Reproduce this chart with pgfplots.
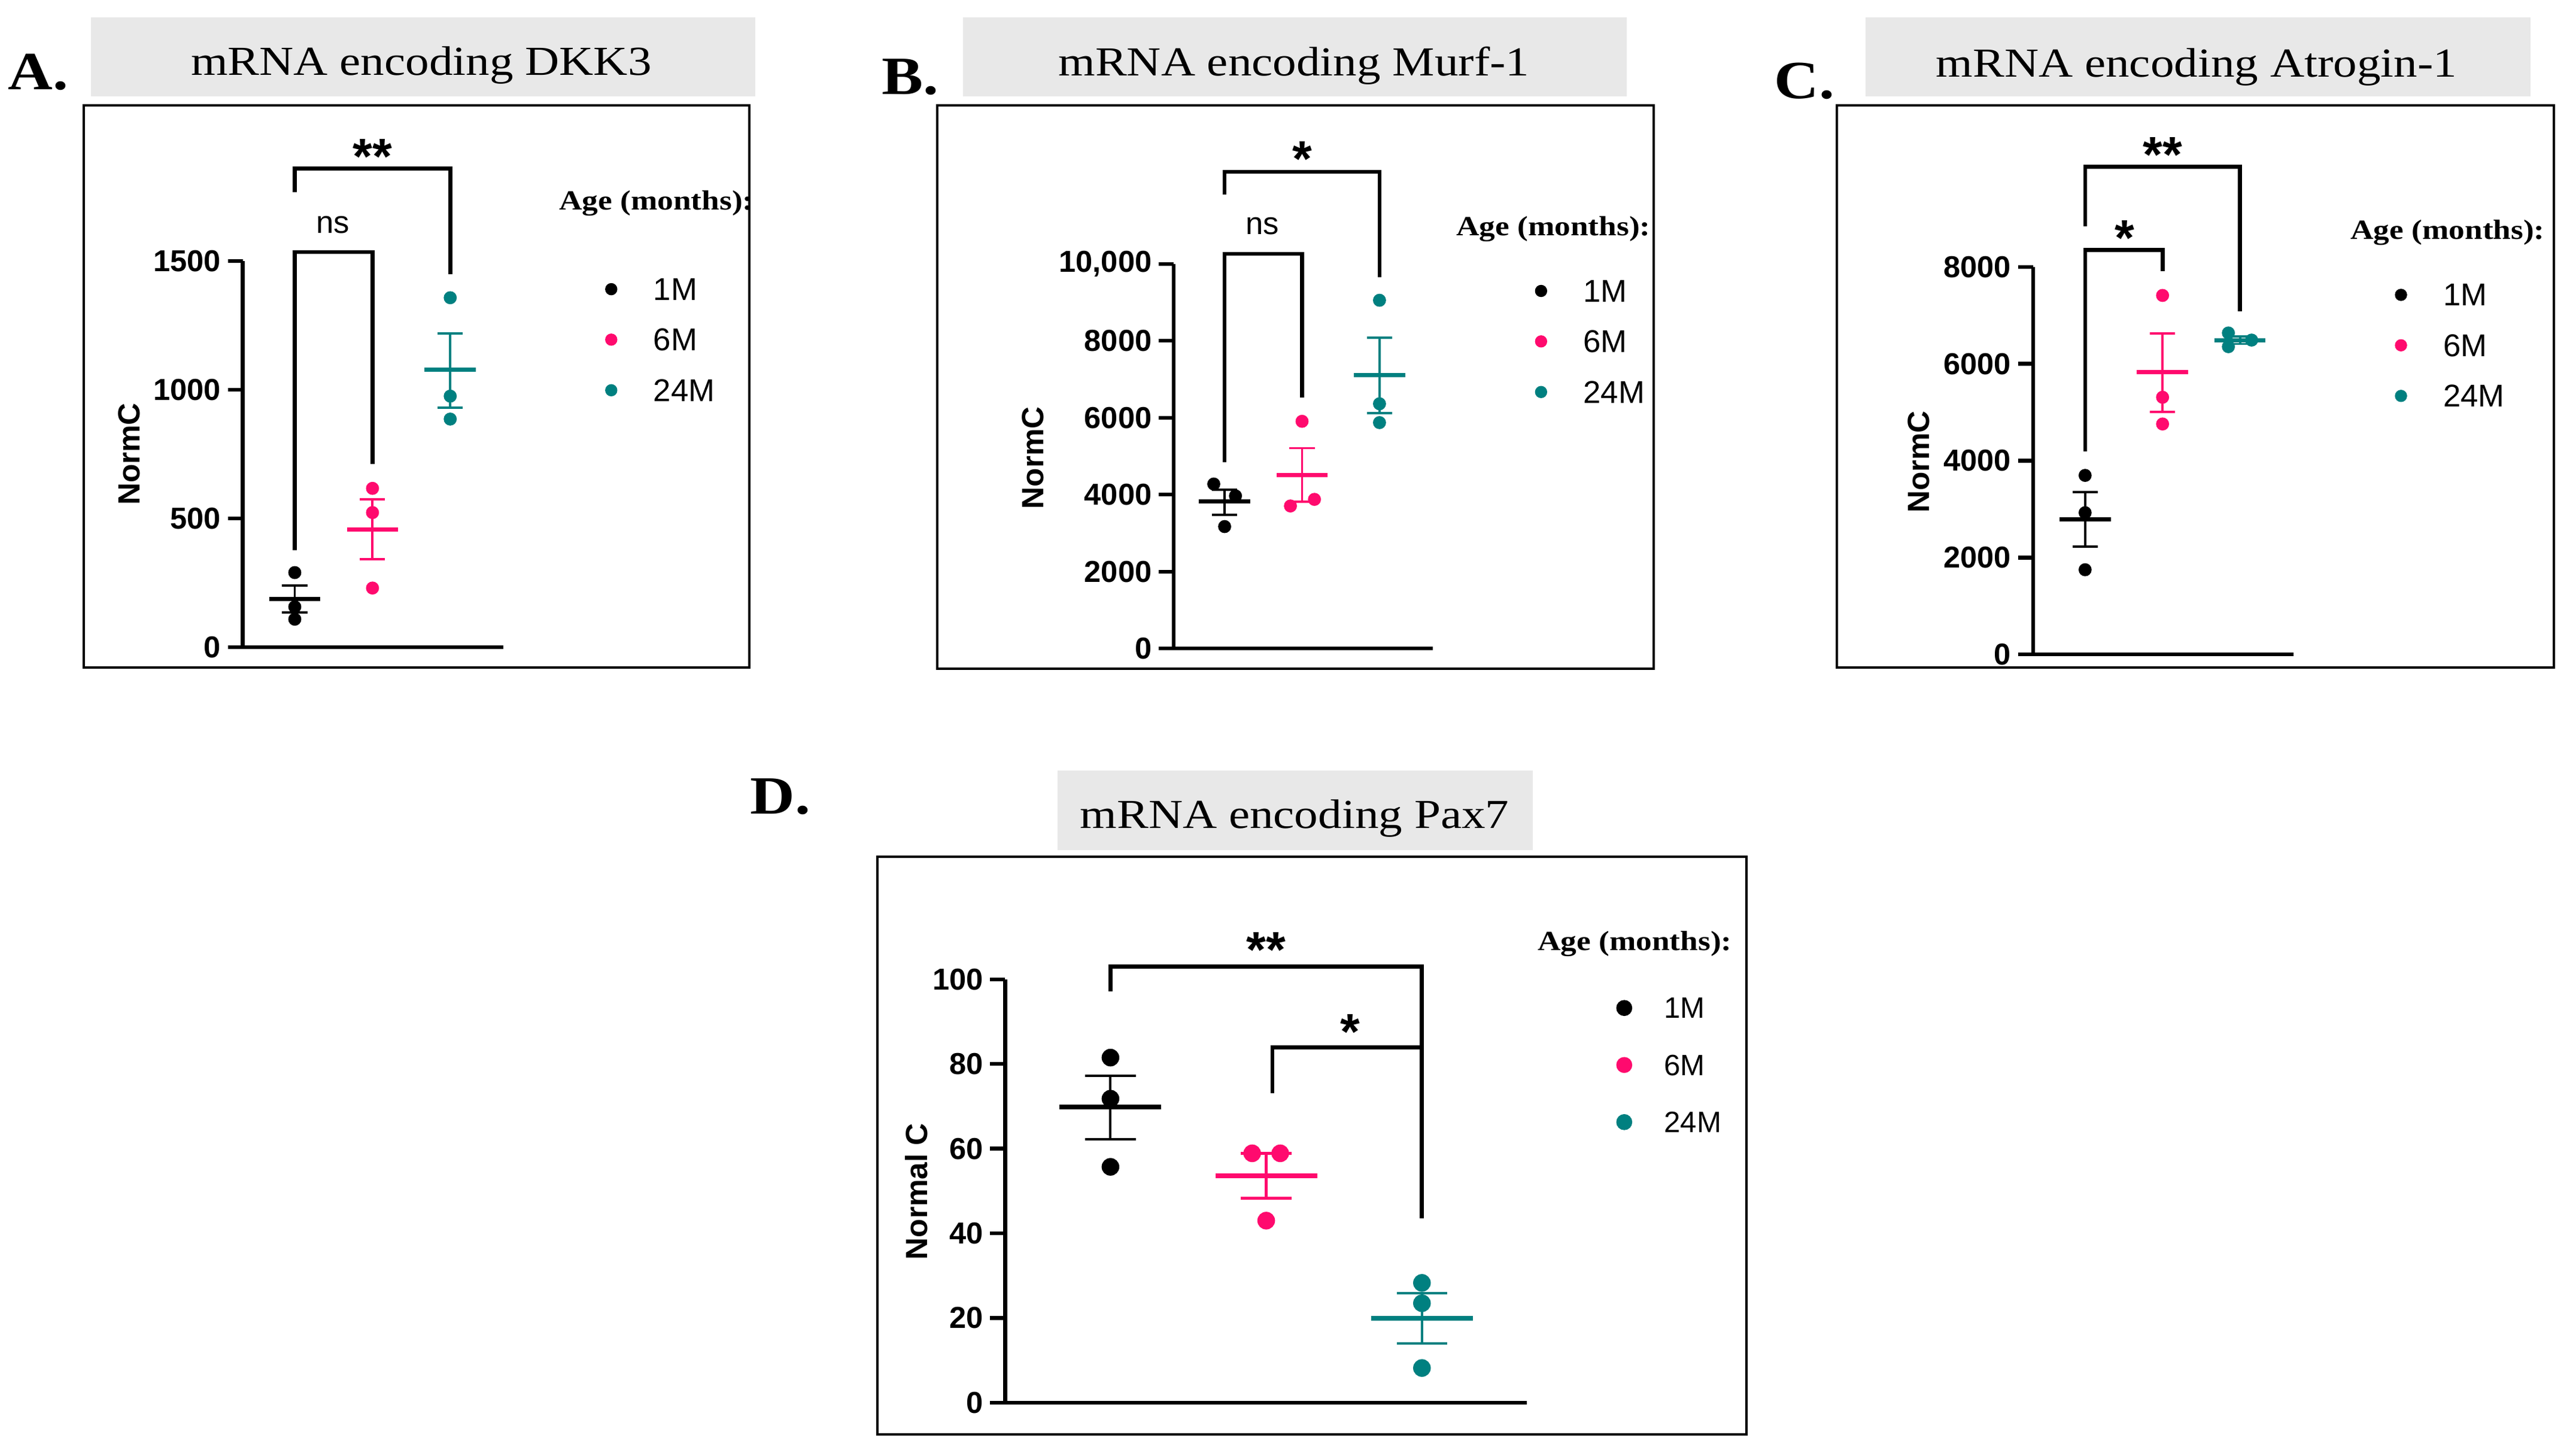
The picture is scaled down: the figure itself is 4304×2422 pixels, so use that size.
\documentclass[border=0pt]{standalone}
\usepackage{fontspec}
\setmainfont{Liberation Serif}
\setsansfont{Liberation Sans}
\newfontfamily\titlefont[FakeStretch=1.15]{Liberation Serif}
\usepackage{pgfplots}
\pgfplotsset{compat=1.18}

\definecolor{pinkc}{HTML}{FF0A6E}
\definecolor{tealc}{HTML}{008080}
\definecolor{boxgray}{HTML}{E8E8E8}

\pgfplotsset{
  panel/.style={
    scale only axis, clip=false, anchor=south west,
    axis x line*=bottom, axis y line*=left,
    axis line style={line width=0.9pt, black},
    xtick=\empty, ymin=0, scaled y ticks=false,
    tick align=outside, major tick length=0.125cm,
    tick style={line width=0.9pt, black},
    yticklabel style={font=\sffamily\bfseries\fontsize{7.2}{8}\selectfont, inner sep=1.5pt},
    ylabel style={font=\sffamily\bfseries\fontsize{7.3}{9}\selectfont, anchor=center},
    legend style={draw=none, fill=none, anchor=north west, inner sep=0pt,
      font=\sffamily\fontsize{7.5}{9}\selectfont, row sep=6.8pt, column sep=8.8pt,
      nodes={inner sep=0pt, text depth=0pt}},
    legend cell align=left,
    legend image code/.code={\draw[##1] plot coordinates {(0cm,0cm)};},
  },
  pts/.style={forget plot, only marks, mark=*, mark size=1.35pt},
  meanbar/.style={forget plot, only marks, mark=-, mark size=6.1pt,
    mark options={line width=1pt},
    error bars/.cd, y dir=both, y explicit,
    error bar style={line width=0.55pt},
    error mark options={rotate=90, mark size=3pt, line width=0.55pt}},
  meanbarD/.style={forget plot, only marks, mark=-, mark size=12.1pt,
    mark options={line width=1.15pt},
    error bars/.cd, y dir=both, y explicit,
    error bar style={line width=0.6pt},
    error mark options={rotate=90, mark size=6pt, line width=0.6pt}},
  bracket/.style={forget plot, black, line width=0.95pt, no marks, sharp plot},
  legdot/.style={only marks, mark=*, mark size=1.25pt, #1},
}
\newcommand{\stars}{\sffamily\bfseries\fontsize{12}{12}\selectfont}
\newcommand{\nsfont}{\sffamily\fontsize{7.5}{9}\selectfont}
\newcommand{\agefont}{\titlefont\bfseries\fontsize{6.6}{8}\selectfont}
\newcommand{\ttl}{\titlefont\fontsize{9.8}{12}\selectfont}
\newcommand{\letterfont}{\titlefont\bfseries\fontsize{12.8}{14}\selectfont}

\begin{document}
\begin{tikzpicture}[x=0.005cm, y=0.005cm]
\useasboundingbox (0,0) rectangle (4304,2422);

% frames and title boxes
\draw[line width=0.57pt] (140,1307) rectangle (1252,2246);
\draw[line width=0.57pt] (1566,1305) rectangle (2763,2246);
\draw[line width=0.57pt] (3069,1307) rectangle (4267,2246);
\draw[line width=0.57pt] (1466,26) rectangle (2918,991);
\fill[boxgray] (152,2261) rectangle (1262,2393);
\fill[boxgray] (1609,2261) rectangle (2718,2393);
\fill[boxgray] (3117,2261) rectangle (4228,2393);
\fill[boxgray] (1767,1002) rectangle (2561,1135);
\node[anchor=base, font=\ttl] at (704,2296) {mRNA encoding DKK3};
\node[anchor=base, font=\ttl] at (2162,2295) {mRNA encoding Murf-1};
\node[anchor=base, font=\ttl] at (3670,2293) {mRNA encoding Atrogin-1};
\node[anchor=base, font=\ttl] at (2163,1038) {mRNA encoding Pax7};
\node[anchor=base west, inner sep=0pt, font=\letterfont] at (12,2272) {A.};
\node[anchor=base west, inner sep=0pt, font=\letterfont] at (1472,2264) {B.};
\node[anchor=base west, inner sep=0pt, font=\letterfont] at (2963,2257) {C.};
\node[anchor=base west, inner sep=0pt, font=\letterfont] at (1252,1062) {D.};
\node[anchor=base west, inner sep=0pt, font=\agefont] at (933,2071) {Age (months):};
\node[anchor=base west, inner sep=0pt, font=\agefont] at (2432,2028) {Age (months):};
\node[anchor=base west, inner sep=0pt, font=\agefont] at (3926,2022) {Age (months):};
\node[anchor=base west, inner sep=0pt, font=\agefont] at (2568,834) {Age (months):};

% A. DKK3
\begin{axis}[panel, at={(2.03cm,6.71cm)}, width=2.18cm, height=3.23cm,
  xmin=0.331, xmax=3.685, ymax=1500,
  ytick={0,500,1000,1500}, yticklabels={0,500,1000,1500},
  ylabel={NormC}, ylabel style={at={(axis description cs:-0.436,0.5)}},
  legend style={at={(axis description cs:1.390,0.957)}}]
\addlegendimage{legdot=black}\addlegendentry{1M}
\addlegendimage{legdot=pinkc}\addlegendentry{6M}
\addlegendimage{legdot=tealc}\addlegendentry{24M}
\addplot[pts, black] coordinates {(1,290) (1,157) (1,109)};
\addplot[pts, pinkc] coordinates {(2,617) (2,523) (2,230)};
\addplot[pts, tealc] coordinates {(3,1357) (3,975) (3,886)};
\addplot[black, meanbar] coordinates {(1,187) += (0,52) -= (0,52)};
\addplot[pinkc, meanbar] coordinates {(2,458) += (0,116) -= (0,115)};
\addplot[tealc, meanbar] coordinates {(3,1077) += (0,142) -= (0,146)};
\addplot[bracket] coordinates {(1,378) (1,1534) (2,1534) (2,711)};
\addplot[bracket] coordinates {(1,1767) (1,1858) (3,1858) (3,1449)};
\node[font=\nsfont] at (axis cs:1.49,1640) {ns};
\node[font=\stars, yshift=-2.5pt] at (axis cs:2,1946) {**};
\end{axis}

% B. Murf-1
\begin{axis}[panel, at={(9.815cm,6.70cm)}, width=2.165cm, height=3.215cm,
  xmin=0.344, xmax=3.687, ymax=10000,
  ytick={0,2000,4000,6000,8000,10000}, yticklabels={0,2000,4000,6000,8000,{10,000}},
  ylabel={NormC}, ylabel style={at={(axis description cs:-0.545,0.496)}},
  legend style={at={(axis description cs:1.395,0.960)}}]
\addlegendimage{legdot=black}\addlegendentry{1M}
\addlegendimage{legdot=pinkc}\addlegendentry{6M}
\addlegendimage{legdot=tealc}\addlegendentry{24M}
\addplot[pts, black] coordinates {(0.86,4276) (1.14,3968) (1,3170)};
\addplot[pts, pinkc] coordinates {(2,5907) (1.85,3706) (2.16,3877)};
\addplot[pts, tealc] coordinates {(3,9054) (3,6363) (3,5873)};
\addplot[black, meanbar] coordinates {(1,3820) += (0,308) -= (0,342)};
\addplot[pinkc, meanbar] coordinates {(2,4504) += (0,707) -= (0,684)};
\addplot[tealc, meanbar] coordinates {(3,7104) += (0,981) -= (0,981)};
\addplot[bracket] coordinates {(1,4846) (1,10263) (2,10263) (2,6522)};
\addplot[bracket] coordinates {(1,11802) (1,12395) (3,12395) (3,9658)};
\node[font=\nsfont] at (axis cs:1.49,10981) {ns};
\node[font=\stars, yshift=-2.5pt] at (axis cs:2,13000) {*};
\end{axis}

% C. Atrogin-1
\begin{axis}[panel, at={(17.0cm,6.65cm)}, width=2.175cm, height=3.24cm,
  xmin=0.328, xmax=3.687, ymax=8000,
  ytick={0,2000,4000,6000,8000}, yticklabels={0,2000,4000,6000,8000},
  ylabel={NormC}, ylabel style={at={(axis description cs:-0.439,0.497)}},
  legend style={at={(axis description cs:1.391,0.958)}}]
\addlegendimage{legdot=black}\addlegendentry{1M}
\addlegendimage{legdot=pinkc}\addlegendentry{6M}
\addlegendimage{legdot=tealc}\addlegendentry{24M}
\addplot[pts, black] coordinates {(1,3696) (1,2926) (1,1749)};
\addplot[pts, pinkc] coordinates {(2,7411) (2,5309) (2,4757)};
\addplot[pts, tealc] coordinates {(2.85,6636) (2.85,6353) (3.15,6489)};
\addplot[black, meanbar] coordinates {(1,2790) += (0,562) -= (0,561)};
\addplot[pinkc, meanbar] coordinates {(2,5826) += (0,797) -= (0,816)};
\addplot[tealc, meanbar] coordinates {(3,6489) += (0,80) -= (0,80)};
\addplot[bracket] coordinates {(1,4195) (1,8353) (2,8353) (2,7909)};
\addplot[bracket] coordinates {(1,8843) (1,10066) (3,10066) (3,7085)};
\node[font=\stars, yshift=-2.5pt] at (axis cs:1.51,8815) {*};
\node[font=\stars, yshift=-2.5pt] at (axis cs:2,10537) {**};
\end{axis}

% D. Pax7
\begin{axis}[panel, at={(8.405cm,0.395cm)}, width=4.36cm, height=3.54cm,
  xmin=0.324, xmax=3.672, ymax=100,
  ytick={0,20,40,60,80,100}, yticklabels={0,20,40,60,80,100},
  ylabel={Normal C}, ylabel style={at={(axis description cs:-0.17,0.499)}},
  legend style={at={(axis description cs:1.172,0.958)},
    font=\sffamily\fontsize{7}{8}\selectfont, row sep=8.7pt, column sep=7.8pt}]
\addlegendimage{legdot=black, mark size=1.7pt}\addlegendentry{1M}
\addlegendimage{legdot=pinkc, mark size=1.7pt}\addlegendentry{6M}
\addlegendimage{legdot=tealc, mark size=1.7pt}\addlegendentry{24M}
\addplot[pts, mark size=1.9pt, black] coordinates {(1,81.5) (1,71.8) (1,55.7)};
\addplot[pts, mark size=1.9pt, pinkc] coordinates {(1.91,58.9) (2.09,58.9) (2,43.0)};
\addplot[pts, mark size=1.9pt, tealc] coordinates {(3,28.3) (3,23.5) (3,8.2)};
\addplot[black, meanbarD] coordinates {(1,69.9) += (0,7.3) -= (0,7.7)};
\addplot[pinkc, meanbarD] coordinates {(2,53.6) += (0,5.3) -= (0,5.3)};
\addplot[tealc, meanbarD] coordinates {(3,20.0) += (0,5.9) -= (0,6.0)};
\addplot[bracket] coordinates {(1,97.2) (1,103) (3,103) (3,43.6)};
\addplot[bracket] coordinates {(2.04,73.1) (2.04,83.9) (3,83.9)};
\node[font=\stars, yshift=-2.5pt] at (axis cs:2,109.5) {**};
\node[font=\stars, yshift=-2.5pt] at (axis cs:2.54,90) {*};
\end{axis}
\end{tikzpicture}
\end{document}
